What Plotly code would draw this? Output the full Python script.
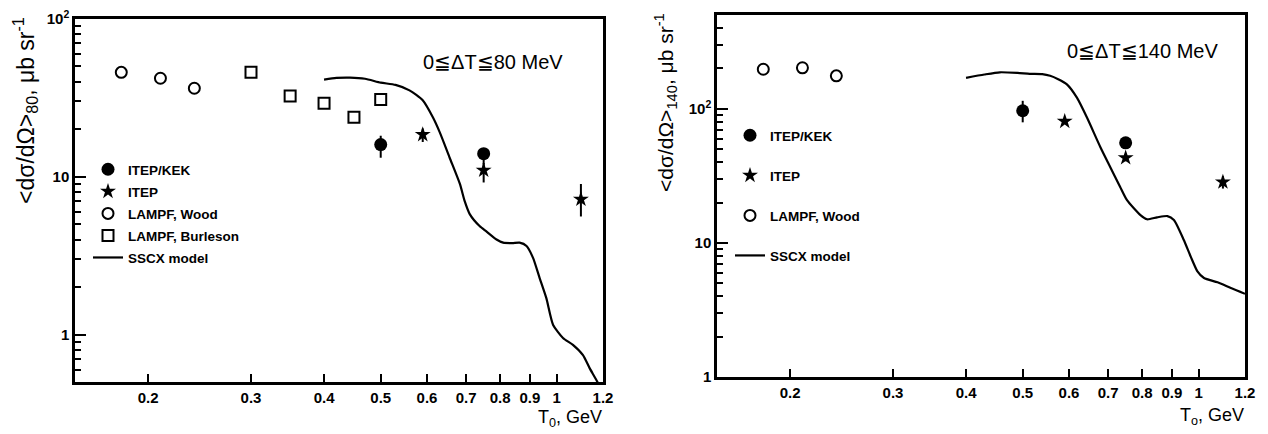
import math
import plotly.graph_objects as go

W, H = 1268, 434

# ---------------- data: <dσ/dΩ>, 0 ≤ ΔT ≤ 80 MeV ----------------
kek80_T = [0.50, 0.75]
kek80_y = [16.0, 14.0]
kek80_ep = [2.2, 1.0]
kek80_em = [2.8, 2.0]

itep80_T = [0.59, 0.75, 1.10]
itep80_y = [18.5, 11.0, 7.2]
itep80_ep = [1.7, 1.2, 1.8]
itep80_em = [1.9, 1.8, 1.6]

wood80_T = [0.18, 0.21, 0.24]
wood80_y = [45.9, 42.1, 36.4]

burl80_T = [0.30, 0.35, 0.40, 0.45, 0.50]
burl80_y = [46.0, 32.5, 29.2, 23.8, 30.9]

sscx80_T = [0.40, 0.42, 0.443, 0.47, 0.50, 0.53, 0.56, 0.59, 0.614, 0.631,
            0.656, 0.683, 0.696, 0.71, 0.738, 0.758, 0.789, 0.81, 0.84, 0.864,
            0.888, 0.911, 0.935, 0.96, 0.986, 1.025, 1.066, 1.109, 1.139, 1.174, 1.19]
sscx80_y = [41.3, 42.3, 42.5, 41.8, 39.5, 38.2, 35.3, 30.5, 23.8, 19.1,
            13.2, 9.0, 7.0, 5.8, 4.87, 4.5, 4.0, 3.82, 3.8, 3.82,
            3.64, 3.06, 2.28, 1.70, 1.15, 0.95, 0.86, 0.74, 0.61, 0.50, 0.44]

# ---------------- data: <dσ/dΩ>, 0 ≤ ΔT ≤ 140 MeV ----------------
kek140_T = [0.50, 0.75]
kek140_y = [96.6, 55.7]
kek140_ep = [18.0, 3.0]
kek140_em = [17.4, 3.0]

itep140_T = [0.59, 0.75, 1.10]
itep140_y = [80.5, 43.1, 28.4]
itep140_err = [3.0, 2.5, 3.0]

wood140_T = [0.18, 0.21, 0.24]
wood140_y = [197.0, 202.0, 176.0]

sscx140_T = [0.40, 0.43, 0.457, 0.49, 0.514, 0.54, 0.557, 0.575, 0.595, 0.619,
             0.644, 0.679, 0.706, 0.734, 0.754, 0.795, 0.816, 0.849, 0.884, 0.907,
             0.943, 0.969, 0.995, 1.021, 1.077, 1.135, 1.2]
sscx140_y = [170.0, 180.0, 187.0, 185.0, 182.0, 181.0, 176.0, 166.0, 152.0, 121.0,
             86.0, 51.7, 36.7, 26.1, 20.8, 16.1, 15.0, 15.5, 15.85, 14.8,
             10.5, 7.9, 6.13, 5.47, 5.08, 4.6, 4.17]

x_ticks = [0.2, 0.3, 0.4, 0.5, 0.6, 0.7, 0.8, 0.9, 1.0, 1.2]
x_ticktext = ["0.2", "0.3", "0.4", "0.5", "0.6", "0.7", "0.8", "0.9", "1", "1.2"]
y_major = [1, 10, 100]
y_major_text = ["1", "10", "10<sup>2</sup>"]
y_minor_80 = [0.6, 0.7, 0.8, 0.9, 2, 3, 4, 5, 6, 7, 8, 9,
              20, 30, 40, 50, 60, 70, 80, 90]
y_minor_140 = [2, 3, 4, 5, 6, 7, 8, 9, 20, 30, 40, 50, 60, 70, 80, 90,
               200, 300, 400]

FONT = "Liberation Sans, Arial, sans-serif"
BLACK = "black"


def px_x(p):
    return p / W


def px_y(p):
    return 1 - p / H


fig = go.Figure()


def add_panel(xa, ya, leg, kek, itep, wood, burl, sscx):
    # model curve
    fig.add_trace(go.Scatter(
        x=sscx[0], y=sscx[1], mode="lines", name="SSCX model",
        line=dict(color=BLACK, width=2.2, shape="spline", smoothing=0.6),
        xaxis=xa, yaxis=ya, legend=leg, legendgroup=leg + "e", legendrank=5))
    # ITEP/KEK filled circles
    fig.add_trace(go.Scatter(
        x=kek[0], y=kek[1], mode="markers", name="ITEP/KEK",
        marker=dict(symbol="circle", size=13, color=BLACK),
        error_y=dict(type="data", array=kek[2], arrayminus=kek[3],
                     color=BLACK, thickness=2, width=0),
        xaxis=xa, yaxis=ya, legend=leg, legendgroup=leg + "a", legendrank=1))
    # ITEP stars
    fig.add_trace(go.Scatter(
        x=itep[0], y=itep[1], mode="markers", name="ITEP",
        marker=dict(symbol="star", size=12, color=BLACK),
        error_y=dict(type="data", array=itep[2], arrayminus=itep[3],
                     color=BLACK, thickness=2, width=0),
        xaxis=xa, yaxis=ya, legend=leg, legendgroup=leg + "b", legendrank=2))
    # LAMPF, Wood open circles
    fig.add_trace(go.Scatter(
        x=wood[0], y=wood[1], mode="markers", name="LAMPF, Wood",
        marker=dict(symbol="circle-open", size=11, color=BLACK,
                    line=dict(width=2, color=BLACK)),
        xaxis=xa, yaxis=ya, legend=leg, legendgroup=leg + "c", legendrank=3))
    if burl is not None:
        fig.add_trace(go.Scatter(
            x=burl[0], y=burl[1], mode="markers", name="LAMPF, Burleson",
            marker=dict(symbol="square-open", size=11, color=BLACK,
                        line=dict(width=2, color=BLACK)),
            xaxis=xa, yaxis=ya, legend=leg, legendgroup=leg + "d", legendrank=4))


add_panel("x", "y", "legend",
          (kek80_T, kek80_y, kek80_ep, kek80_em),
          (itep80_T, itep80_y, itep80_ep, itep80_em),
          (wood80_T, wood80_y),
          (burl80_T, burl80_y),
          (sscx80_T, sscx80_y))
add_panel("x2", "y2", "legend2",
          (kek140_T, kek140_y, kek140_ep, kek140_em),
          (itep140_T, itep140_y, itep140_err, itep140_err),
          (wood140_T, wood140_y),
          None,
          (sscx140_T, sscx140_y))


def x_axis(domain, anchor):
    return dict(
        domain=domain, type="log", anchor=anchor, automargin=False,
        range=[math.log10(0.15), math.log10(1.2)],
        tickmode="array", tickvals=x_ticks, ticktext=x_ticktext,
        ticks="inside", ticklen=8, tickwidth=1.8, tickcolor=BLACK,
        tickfont=dict(family=FONT, size=15, color=BLACK, weight="bold"),
        showline=True, linewidth=2.5, linecolor=BLACK, mirror=True,
        showgrid=False, zeroline=False)


def y_axis(domain, lo, hi, minor_vals, anchor):
    return dict(
        domain=domain, type="log", anchor=anchor, automargin=False,
        range=[math.log10(lo), math.log10(hi)],
        tickmode="array", tickvals=y_major, ticktext=y_major_text,
        ticks="inside", ticklen=11, tickwidth=1.8, tickcolor=BLACK,
        tickfont=dict(family=FONT, size=15, color=BLACK, weight="bold"),
        minor=dict(tickmode="array", tickvals=minor_vals, ticks="inside",
                   ticklen=6, tickwidth=1.5, tickcolor=BLACK, showgrid=False),
        showline=True, linewidth=2.5, linecolor=BLACK, mirror=True,
        showgrid=False, zeroline=False)


legend_font = dict(family=FONT, size=13.5, color=BLACK, weight="bold")

fig.update_layout(
    template="none",
    width=W, height=H,
    margin=dict(l=0, r=0, t=0, b=0, autoexpand=False),
    paper_bgcolor="white", plot_bgcolor="white",
    font=dict(family=FONT, color=BLACK),
    xaxis=x_axis([px_x(75), px_x(603)], "y"),
    yaxis=y_axis([px_y(382), px_y(19)], 0.5, 100, y_minor_80, "x"),
    xaxis2=x_axis([px_x(717), px_x(1245)], "y2"),
    yaxis2=y_axis([px_y(377), px_y(15)], 1, 500, y_minor_140, "x2"),
    legend=dict(x=px_x(88), y=px_y(154), xanchor="left", yanchor="top",
                bgcolor="rgba(0,0,0,0)", borderwidth=0, font=legend_font,
                tracegroupgap=1.5, traceorder="grouped"),
    legend2=dict(x=px_x(730), y=px_y(120), xanchor="left", yanchor="top",
                 bgcolor="rgba(0,0,0,0)", borderwidth=0, font=legend_font,
                 tracegroupgap=19.5, traceorder="grouped"),
    showlegend=True,
)


def label(x, y, text, size, angle=0, xanchor="center"):
    fig.add_annotation(x=px_x(x), y=px_y(y), xref="paper", yref="paper",
                       xanchor=xanchor, yanchor="middle", text=text,
                       textangle=angle, showarrow=False,
                       font=dict(family=FONT, size=size, color=BLACK))


# panel captions
label(493, 62, "0≦ΔT≦80 MeV", 20)
label(1142, 51, "0≦ΔT≦140 MeV", 20)

# axis titles
label(25, 111, "&lt;dσ/dΩ&gt;<sub>80</sub>, μb sr<sup>-1</sup>", 23, -90)
label(665, 103, "&lt;dσ/dΩ&gt;<sub>140</sub>, μb sr<sup>-1</sup>", 21, -90)
label(604, 418, "T<sub>0</sub>, GeV", 18, 0, "right")
label(1246, 416, "T<sub>o</sub>, GeV", 18, 0, "right")

fig.write_html("out.html")
